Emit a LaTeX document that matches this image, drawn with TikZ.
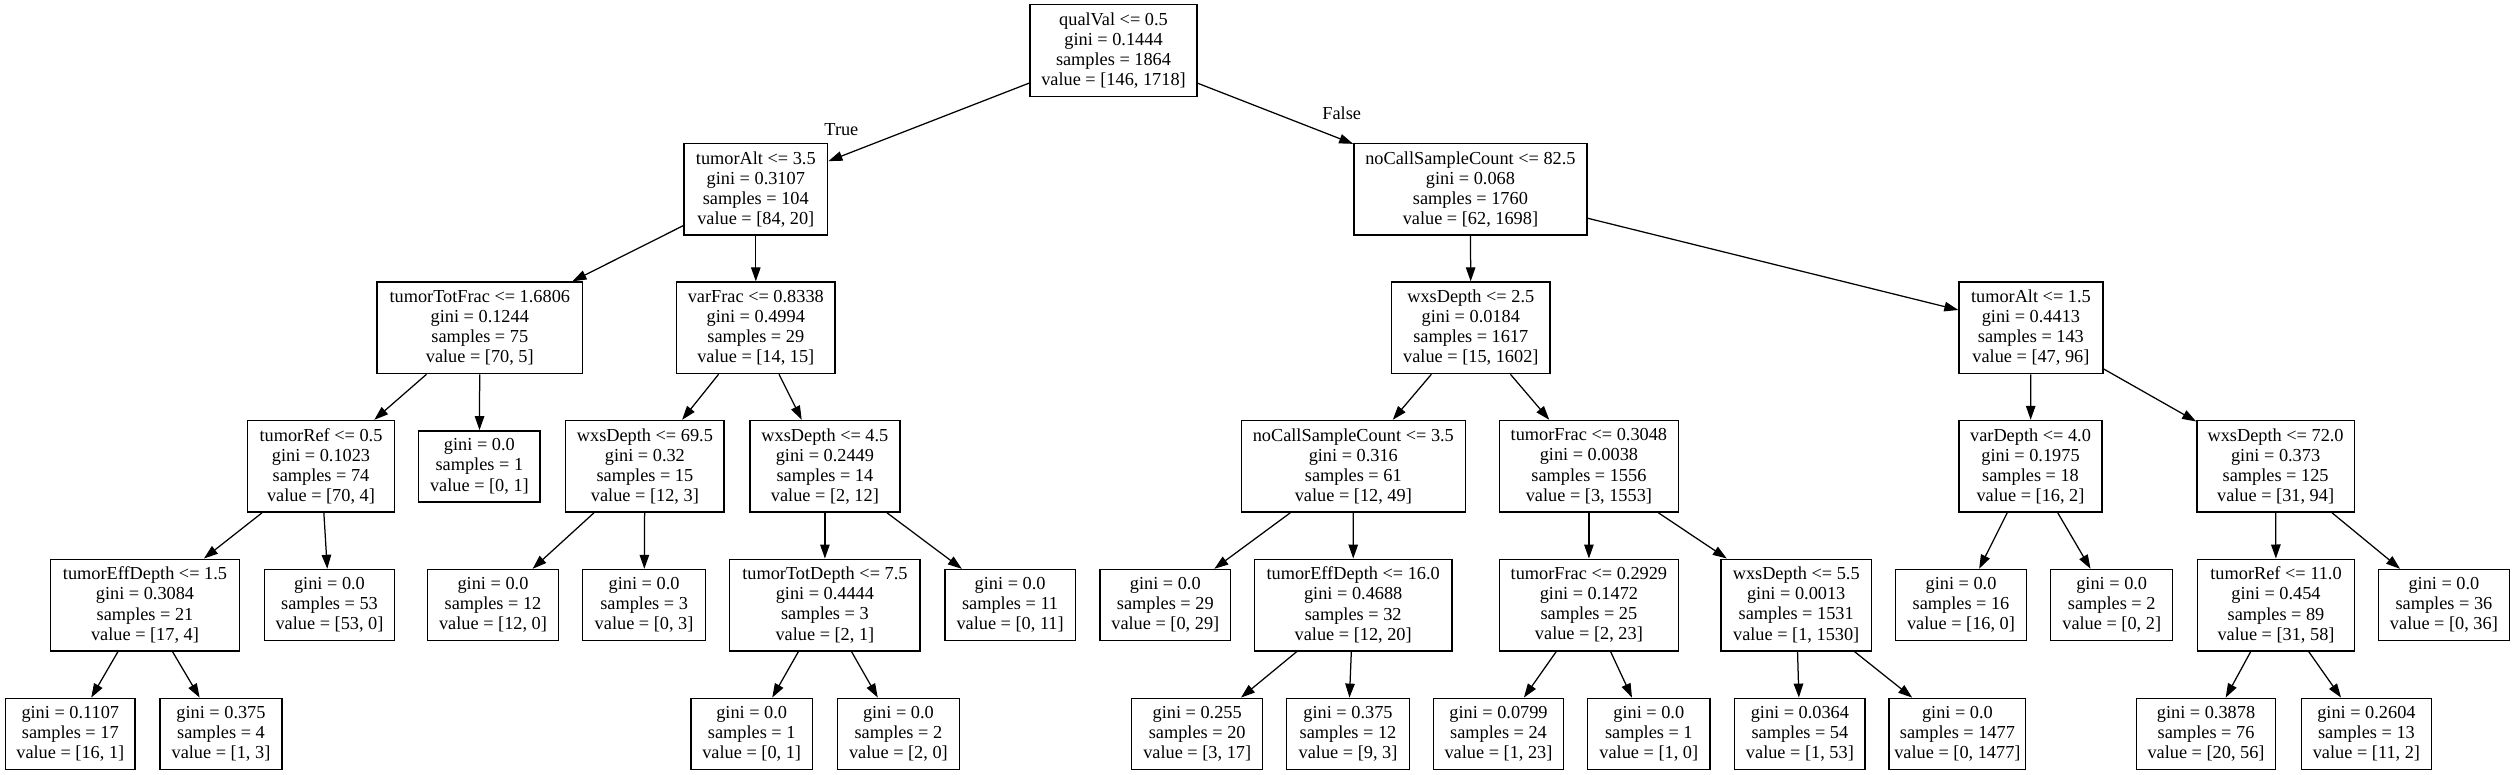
\documentclass[tikz,border=0pt]{standalone}
\usepackage{fontspec}
\setmainfont{Liberation Serif}
\usetikzlibrary{arrows.meta}
\tikzset{
  tbox/.style={draw, rectangle, line width=1.4pt, inner sep=0pt, align=center,
    font=\fontsize{18.3}{20.1}\selectfont, minimum height=91.6pt},
  leaf/.style={tbox, minimum height=71pt},
  lbl/.style={inner sep=0pt, font=\fontsize{18.3}{20.1}\selectfont},
  edge/.style={line width=1.25pt, -{Triangle[length=14pt,width=9.5pt]}}
}
\begin{document}
\begin{tikzpicture}[x=1pt,y=-1pt]
\useasboundingbox (0,0) rectangle (2515,775);
% row 1
\node[tbox, minimum width=167pt] (A) at (1113.5,50.5) {qualVal <= 0.5\\gini = 0.1444\\samples = 1864\\value = [146, 1718]};
% row 2
\node[tbox, minimum width=143.8pt] (B) at (755.8,189.3) {tumorAlt <= 3.5\\gini = 0.3107\\samples = 104\\value = [84, 20]};
\node[tbox, minimum width=233.1pt] (C) at (1470.4,189.3) {noCallSampleCount <= 82.5\\gini = 0.068\\samples = 1760\\value = [62, 1698]};
% row 3
\node[tbox, minimum width=205.7pt] (D) at (479.8,327.8) {tumorTotFrac <= 1.6806\\gini = 0.1244\\samples = 75\\value = [70, 5]};
\node[tbox, minimum width=158.4pt] (E) at (755.8,327.8) {varFrac <= 0.8338\\gini = 0.4994\\samples = 29\\value = [14, 15]};
\node[tbox, minimum width=158.3pt] (F) at (1470.8,327.8) {wxsDepth <= 2.5\\gini = 0.0184\\samples = 1617\\value = [15, 1602]};
\node[tbox, minimum width=143.8pt] (G) at (2030.9,327.8) {tumorAlt <= 1.5\\gini = 0.4413\\samples = 143\\value = [47, 96]};
% row 4
\node[tbox, minimum width=147.1pt] (H) at (321,466.3) {tumorRef <= 0.5\\gini = 0.1023\\samples = 74\\value = [70, 4]};
\node[leaf, minimum width=121.3pt] (I) at (479.4,466.3) {gini = 0.0\\samples = 1\\value = [0, 1]};
\node[tbox, minimum width=158.3pt] (J) at (644.9,466.3) {wxsDepth <= 69.5\\gini = 0.32\\samples = 15\\value = [12, 3]};
\node[tbox, minimum width=150.2pt] (K) at (824.9,466.3) {wxsDepth <= 4.5\\gini = 0.2449\\samples = 14\\value = [2, 12]};
\node[tbox, minimum width=224pt] (L) at (1353.3,466.3) {noCallSampleCount <= 3.5\\gini = 0.316\\samples = 61\\value = [12, 49]};
\node[tbox, minimum width=179.2pt] (M) at (1588.9,466.3) {tumorFrac <= 0.3048\\gini = 0.0038\\samples = 1556\\value = [3, 1553]};
\node[tbox, minimum width=143pt] (N) at (2030.5,466.3) {varDepth <= 4.0\\gini = 0.1975\\samples = 18\\value = [16, 2]};
\node[tbox, minimum width=157.5pt] (O) at (2275.6,466.3) {wxsDepth <= 72.0\\gini = 0.373\\samples = 125\\value = [31, 94]};
% row 5
\node[tbox, minimum width=188.9pt] (P) at (145,605) {tumorEffDepth <= 1.5\\gini = 0.3084\\samples = 21\\value = [17, 4]};
\node[leaf, minimum width=130.2pt] (Q) at (329.5,605) {gini = 0.0\\samples = 53\\value = [53, 0]};
\node[leaf, minimum width=131pt] (R) at (493,605) {gini = 0.0\\samples = 12\\value = [12, 0]};
\node[leaf, minimum width=123pt] (S) at (644.1,605) {gini = 0.0\\samples = 3\\value = [0, 3]};
\node[tbox, minimum width=190.3pt] (T) at (824.9,605) {tumorTotDepth <= 7.5\\gini = 0.4444\\samples = 3\\value = [2, 1]};
\node[leaf, minimum width=130.2pt] (U) at (1010.1,605) {gini = 0.0\\samples = 11\\value = [0, 11]};
\node[leaf, minimum width=130.7pt] (V) at (1165.3,605) {gini = 0.0\\samples = 29\\value = [0, 29]};
\node[tbox, minimum width=197.7pt] (W) at (1353.2,605) {tumorEffDepth <= 16.0\\gini = 0.4688\\samples = 32\\value = [12, 20]};
\node[tbox, minimum width=179.2pt] (X) at (1588.9,605) {tumorFrac <= 0.2929\\gini = 0.1472\\samples = 25\\value = [2, 23]};
\node[tbox, minimum width=150.4pt] (Y) at (1796.2,605) {wxsDepth <= 5.5\\gini = 0.0013\\samples = 1531\\value = [1, 1530]};
\node[leaf, minimum width=131pt] (Z) at (1961,605) {gini = 0.0\\samples = 16\\value = [16, 0]};
\node[leaf, minimum width=122.1pt] (AA) at (2111.7,605) {gini = 0.0\\samples = 2\\value = [0, 2]};
\node[tbox, minimum width=156.7pt] (AB) at (2276,605) {tumorRef <= 11.0\\gini = 0.454\\samples = 89\\value = [31, 58]};
\node[leaf, minimum width=131pt] (AC) at (2443.9,605) {gini = 0.0\\samples = 36\\value = [0, 36]};
% row 6
\node[leaf, minimum width=129.4pt] (AD) at (70.3,733.8) {gini = 0.1107\\samples = 17\\value = [16, 1]};
\node[leaf, minimum width=122pt] (AE) at (221,733.8) {gini = 0.375\\samples = 4\\value = [1, 3]};
\node[leaf, minimum width=121.4pt] (AF) at (751.7,733.8) {gini = 0.0\\samples = 1\\value = [0, 1]};
\node[leaf, minimum width=122.2pt] (AG) at (898.4,733.8) {gini = 0.0\\samples = 2\\value = [2, 0]};
\node[leaf, minimum width=131pt] (AH) at (1197.2,733.8) {gini = 0.255\\samples = 20\\value = [3, 17]};
\node[leaf, minimum width=122.6pt] (AI) at (1348,733.8) {gini = 0.375\\samples = 12\\value = [9, 3]};
\node[leaf, minimum width=130.2pt] (AJ) at (1498.5,733.8) {gini = 0.0799\\samples = 24\\value = [1, 23]};
\node[leaf, minimum width=122.1pt] (AK) at (1648.8,733.8) {gini = 0.0\\samples = 1\\value = [1, 0]};
\node[leaf, minimum width=130.3pt] (AL) at (1799.9,733.8) {gini = 0.0364\\samples = 54\\value = [1, 53]};
\node[leaf, minimum width=136.7pt] (AM) at (1957.4,733.8) {gini = 0.0\\samples = 1477\\value = [0, 1477]};
\node[leaf, minimum width=139.1pt] (AN) at (2206,733.8) {gini = 0.3878\\samples = 76\\value = [20, 56]};
\node[leaf, minimum width=130.2pt] (AO) at (2366.4,733.8) {gini = 0.2604\\samples = 13\\value = [11, 2]};
% edge labels
\node[lbl] (tl) at (841.4,130) {True};
\node[lbl] (fl) at (1341.7,113.3) {False};
% edges
\foreach \p/\c in {A/B,A/C,B/D,B/E,C/F,C/G,D/H,D/I,E/J,E/K,F/L,F/M,G/N,G/O,
  H/P,H/Q,J/R,J/S,K/T,K/U,L/V,L/W,M/X,M/Y,N/Z,N/AA,O/AB,O/AC,
  P/AD,P/AE,T/AF,T/AG,W/AH,W/AI,X/AJ,X/AK,Y/AL,Y/AM,AB/AN,AB/AO}
  \draw[edge] (\p) -- (\c);
\end{tikzpicture}
\end{document}
